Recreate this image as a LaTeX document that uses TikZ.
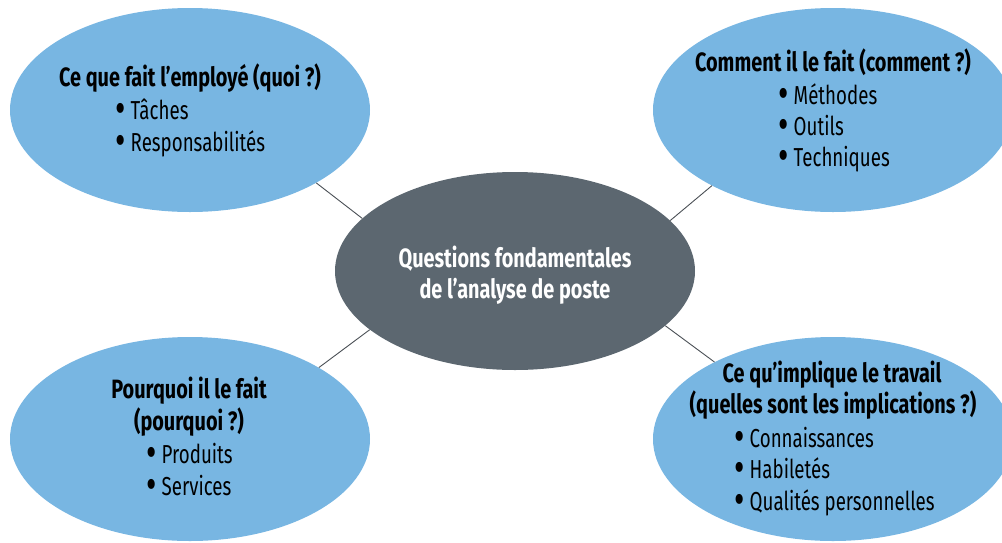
\documentclass[tikz,border=0pt]{standalone}
\usepackage{fontspec}
\usepackage{graphicx}
\setmainfont[FakeStretch=0.75]{Fira Sans}
\newfontfamily\itemfont[FakeStretch=0.72]{Fira Sans}
\usetikzlibrary{shapes.geometric}
\definecolor{lblue}{HTML}{78B6E2}
\definecolor{dgray}{HTML}{5C6770}
\definecolor{lnk}{HTML}{4A4F55}
\newcommand\mybul{\smash{\raisebox{-0.19em}{\scalebox{1.7}{•}}}\hspace{0.2em}}
\begin{document}
\begin{tikzpicture}[x=1pt,y=-1pt,
  blob/.style={ellipse, fill=lblue, minimum width=360pt, minimum height=204pt, inner sep=0pt},
  hub/.style={ellipse, fill=dgray, minimum width=360pt, minimum height=198pt, inner sep=0pt},
  ttl/.style={anchor=base, inner sep=0pt, font=\fontsize{26.5}{30}\selectfont\bfseries},
  itm/.style={anchor=base west, inner sep=0pt, font=\itemfont\fontsize{26}{30}\selectfont},
  link/.style={draw=lnk, line width=0.9pt}]
\useasboundingbox (0,0) rectangle (1002,542);
\clip (0,0) rectangle (1002,542);
% shapes
\node[blob] (tl) at (190,110) {};
\node[blob] (tr) at (833,110) {};
\node[blob] (bl) at (190,439) {};
\node[blob] (br) at (833,439) {};
\node[hub] (c) at (515,271) {};
% connectors
\draw[link] (tl.-30) -- (c.161);
\draw[link] (tr.212) -- (c.18);
\draw[link] (bl.29) -- (c.202);
\draw[link] (br.147) -- (c.-20);
% center text
\node[ttl, text=white] (c1) at (515,267) {Questions fondamentales};
\node[ttl, text=white] (c2) at (515,298) {de l’analyse de poste};
% top left
\node[ttl] (tl1) at (190,86) {Ce que fait l’employé (quoi ?)};
\node[itm] (tl2) at (115,119) {\mybul Tâches};
\node[itm] (tl3) at (115,151) {\mybul Responsabilités};
% top right
\node[ttl] (tr1) at (833,71) {Comment il le fait (comment ?)};
\node[itm] (tr2) at (778,104) {\mybul Méthodes};
\node[itm] (tr3) at (778,135) {\mybul Outils};
\node[itm] (tr4) at (778,166) {\mybul Techniques};
% bottom left
\node[ttl] (bl1) at (189,398) {Pourquoi il le fait};
\node[ttl] (bl2) at (189,430) {(pourquoi ?)};
\node[itm] (bl3) at (146,463) {\mybul Produits};
\node[itm] (bl4) at (146,495) {\mybul Services};
% bottom right
\node[ttl] (br1) at (832,382) {Ce qu’implique le travail};
\node[ttl] (br2) at (833,413) {(quelles sont les implications ?)};
\node[itm] (br3) at (734,447) {\mybul Connaissances};
\node[itm] (br4) at (734,478) {\mybul Habiletés};
\node[itm] (br5) at (734,510) {\mybul Qualités personnelles};
\end{tikzpicture}
\end{document}
